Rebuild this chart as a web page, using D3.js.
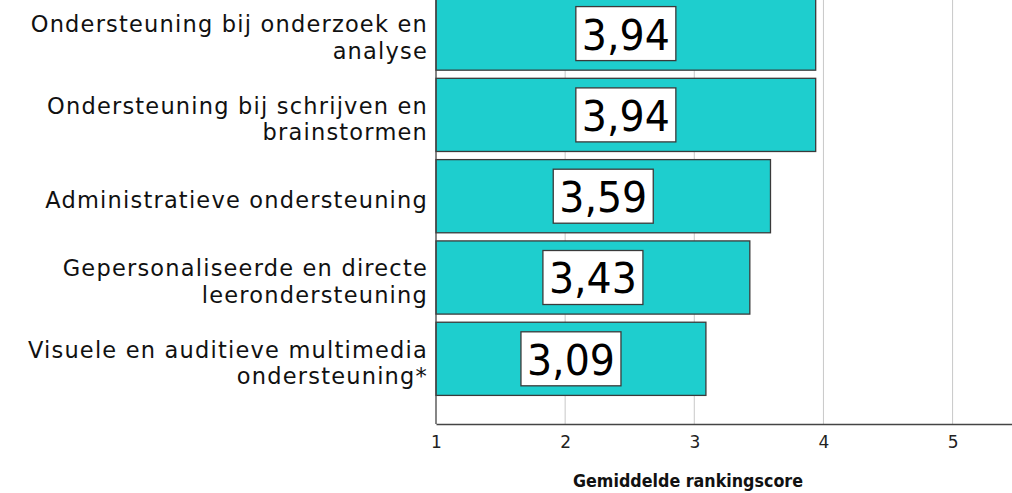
<!DOCTYPE html>
<meta charset="utf-8">
<style>
  body { margin: 0; background: #fff; }
  svg { display: block; font-family: "DejaVu Sans", sans-serif; }
  .grid line { stroke: #c8c8c8; stroke-width: 1; }
  .bar { fill: #1ecece; stroke: #3a3a3a; stroke-width: 1.3; }
  .lbl rect { fill: #fff; stroke: #3a3a3a; stroke-width: 1.3; }
</style>
<svg width="1012" height="493"></svg>
<script src="https://d3js.org/d3.v7.min.js"></script>
<script>

// data
var categories = [
  "Ondersteuning bij onderzoek en\nanalyse",
  "Ondersteuning bij schrijven en\nbrainstormen",
  "Administratieve ondersteuning",
  "Gepersonaliseerde en directe\nleerondersteuning",
  "Visuele en auditieve multimedia\nondersteuning*"
];
var scores = [3.94, 3.94, 3.59, 3.43, 3.09];
var ticks = [1, 2, 3, 4, 5];

var svg = d3.select("svg"),
    width = +svg.attr("width"),
    height = +svg.attr("height");

var left = 436, axisY = 424;

var x = d3.scaleLinear()
    .domain([1, 5.46])
    .range([left, width]);

var y = d3.scaleBand()
    .domain(categories)
    .range([-3, 395.4])
    .paddingInner(0.1)
    .paddingOuter(0);

// gridlines
svg.append("g")
    .attr("class", "grid")
  .selectAll("line")
  .data(ticks.slice(1))
  .enter().append("line")
    .attr("x1", function(d) { return x(d); })
    .attr("x2", function(d) { return x(d); })
    .attr("y1", 0)
    .attr("y2", axisY);

// bars
svg.append("g")
  .selectAll("rect")
  .data(scores)
  .enter().append("rect")
    .attr("class", "bar")
    .attr("x", x(1))
    .attr("y", function(d, i) { return y(categories[i]); })
    .attr("width", function(d) { return x(d) - x(1); })
    .attr("height", y.bandwidth());

// value boxes
var fmt = function(v) { return d3.format(".2f")(v).replace(".", ","); };
var lbl = svg.append("g")
    .attr("class", "lbl")
  .selectAll("g")
  .data(scores)
  .enter().append("g")
    .attr("transform", function(d, i) {
      return "translate(" + ((x(1) + x(d)) / 2) + "," + (y(categories[i]) + y.bandwidth() / 2) + ")";
    });
lbl.append("rect")
    .attr("x", -50).attr("y", -27)
    .attr("width", 100).attr("height", 54);
lbl.append("text")
    .attr("text-anchor", "middle")
    .attr("dy", "0.37em")
    .attr("font-size", 43)
    .attr("textLength", 88)
    .attr("lengthAdjust", "spacingAndGlyphs")
    .attr("fill", "#000")
    .text(fmt);

// y axis line
svg.append("line")
    .attr("x1", left).attr("x2", left)
    .attr("y1", 0).attr("y2", axisY)
    .attr("stroke", "#444").attr("stroke-width", 1.3);

// category labels
var cat = svg.append("g")
  .selectAll("text")
  .data(categories)
  .enter().append("text")
    .attr("text-anchor", "end")
    .attr("font-size", 22.5)
    .attr("letter-spacing", 1.2)
    .attr("fill", "#111")
    .attr("transform", function(d) {
      return "translate(" + (left - 8) + "," + (y(d) + y.bandwidth() / 2) + ")";
    });
cat.selectAll("tspan")
  .data(function(d) {
    var lines = d.split("\n");
    return lines.map(function(t, k) { return { t: t, k: k, n: lines.length }; });
  })
  .enter().append("tspan")
    .attr("x", 0)
    .attr("y", function(d) { return (d.k - (d.n - 1) / 2) * 26.4; })
    .attr("dy", "0.53em")
    .text(function(d) { return d.t; });

// x axis
var xAxis = svg.append("g")
    .attr("transform", "translate(0," + axisY + ")")
    .call(d3.axisBottom(x).tickValues(ticks).tickSize(0).tickPadding(12).tickFormat(d3.format("d")));
xAxis.select(".domain")
    .attr("stroke", "#444").attr("stroke-width", 1.3);
xAxis.selectAll("text")
    .attr("font-size", 17)
    .attr("font-family", "DejaVu Sans, sans-serif")
    .attr("fill", "#222");

svg.append("text")
    .attr("x", 688)
    .attr("y", 487)
    .attr("text-anchor", "middle")
    .attr("font-size", 17)
    .attr("font-weight", "bold")
    .attr("textLength", 230)
    .attr("lengthAdjust", "spacingAndGlyphs")
    .attr("fill", "#111")
    .text("Gemiddelde rankingscore");

</script>
